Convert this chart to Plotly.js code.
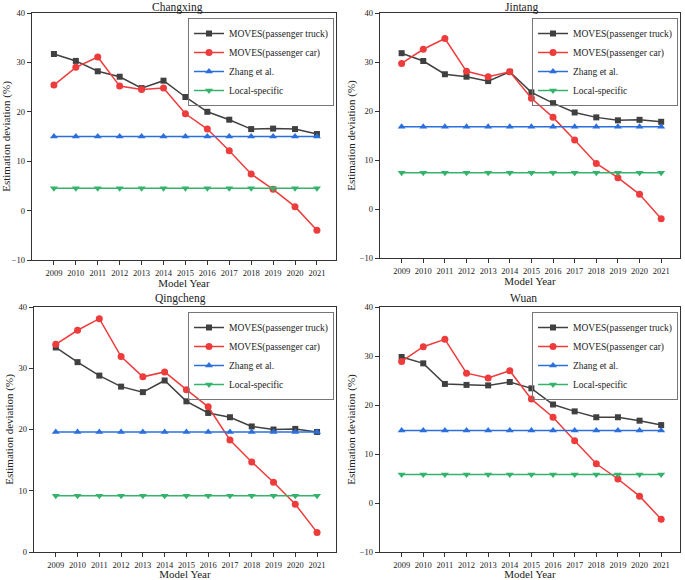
<!DOCTYPE html>
<html>
<head>
<meta charset="utf-8">
<script src="https://cdn.plot.ly/plotly-3.0.1.min.js"></script>
<style>html,body{margin:0;padding:0;background:#fff;}#chart{width:685px;height:580px;}</style>
</head>
<body>
<div id="chart"></div>
<script>
var years = [2009, 2010, 2011, 2012, 2013, 2014, 2015, 2016, 2017, 2018, 2019, 2020, 2021];
var seriesNames = ["MOVES(passenger truck)", "MOVES(passenger car)", "Zhang et al.", "Local-specific"];
var cities = ["Changxing", "Jintang", "Qingcheng", "Wuan"];

var changxingTruck = [31.7, 30.3, 28.2, 27.1, 24.8, 26.3, 23.0, 20.0, 18.4, 16.5, 16.6, 16.5, 15.5];
var changxingCar   = [25.4, 29.0, 31.1, 25.2, 24.5, 24.8, 19.6, 16.5, 12.1, 7.4, 4.3, 0.8, -4.0];
var changxingZhang = [15.0, 15.0, 15.0, 15.0, 15.0, 15.0, 15.0, 15.0, 15.0, 15.0, 15.0, 15.0, 15.0];
var changxingLocal = [4.5, 4.5, 4.5, 4.5, 4.5, 4.5, 4.5, 4.5, 4.5, 4.5, 4.5, 4.5, 4.5];

var jintangTruck = [31.8, 30.2, 27.5, 27.0, 26.1, 28.0, 23.8, 21.6, 19.7, 18.7, 18.1, 18.2, 17.8];
var jintangCar   = [29.7, 32.6, 34.8, 28.1, 27.0, 28.0, 22.6, 18.7, 14.1, 9.3, 6.4, 3.0, -2.0];
var jintangZhang = [16.8, 16.8, 16.8, 16.8, 16.8, 16.8, 16.8, 16.8, 16.8, 16.8, 16.8, 16.8, 16.8];
var jintangLocal = [7.4, 7.4, 7.4, 7.4, 7.4, 7.4, 7.4, 7.4, 7.4, 7.4, 7.4, 7.4, 7.4];

var qingchengTruck = [33.4, 31.0, 28.8, 27.0, 26.1, 28.0, 24.6, 22.7, 22.0, 20.5, 20.0, 20.1, 19.6];
var qingchengCar   = [33.9, 36.2, 38.1, 31.9, 28.6, 29.4, 26.5, 23.7, 18.3, 14.7, 11.4, 7.8, 3.2];
var qingchengZhang = [19.6, 19.6, 19.6, 19.6, 19.6, 19.6, 19.6, 19.6, 19.6, 19.6, 19.6, 19.6, 19.6];
var qingchengLocal = [9.2, 9.2, 9.2, 9.2, 9.2, 9.2, 9.2, 9.2, 9.2, 9.2, 9.2, 9.2, 9.2];

var wuanTruck = [29.8, 28.5, 24.3, 24.1, 24.0, 24.7, 23.4, 20.1, 18.7, 17.5, 17.5, 16.8, 15.9];
var wuanCar   = [28.9, 31.9, 33.4, 26.5, 25.5, 27.0, 21.2, 17.5, 12.7, 8.0, 4.9, 1.4, -3.3];
var wuanZhang = [14.8, 14.8, 14.8, 14.8, 14.8, 14.8, 14.8, 14.8, 14.8, 14.8, 14.8, 14.8, 14.8];
var wuanLocal = [5.8, 5.8, 5.8, 5.8, 5.8, 5.8, 5.8, 5.8, 5.8, 5.8, 5.8, 5.8, 5.8];

var yTickVals = [-10, 0, 10, 20, 30, 40];
var yTickValsQ = [0, 10, 20, 30, 40];

var cityData = [
  [changxingTruck, changxingCar, changxingZhang, changxingLocal],
  [jintangTruck, jintangCar, jintangZhang, jintangLocal],
  [qingchengTruck, qingchengCar, qingchengZhang, qingchengLocal],
  [wuanTruck, wuanCar, wuanZhang, wuanLocal]
];

var W = 685, H = 580;
var FONT = "Liberation Serif";
var colors = ["#404040", "#ee3b3b", "#2a6fdb", "#35b36d"];
var symbols = ["square", "circle", "triangle-up", "triangle-down"];
var msizes = [6, 7, 7, 7];

// panel pixel boxes [left, right, top, bottom]
var boxes = [[32, 336, 13, 260], [380, 680, 13, 258], [34, 336, 307, 552], [380, 680, 307, 552]];
var titlePos = [[177, 0], [521, 0], [180, 291], [523, 291]];
var yRanges = [[-10, 40], [-10, 40], [0, 40], [-10, 40]];
var yTicks = [yTickVals, yTickVals, yTickValsQ, yTickVals];

var data = [];
var layout = {
  width: W, height: H,
  margin: {l: 0, r: 0, t: 0, b: 0},
  paper_bgcolor: "#fff", plot_bgcolor: "#fff",
  font: {family: FONT, color: "#222"},
  annotations: [],
  showlegend: true
};

for (var p = 0; p < 4; p++) {
  var sfx = p === 0 ? "" : String(p + 1);
  var legName = p === 0 ? "legend" : "legend" + (p + 1);
  for (var s = 0; s < 4; s++) {
    data.push({
      type: "scatter", mode: "lines+markers",
      x: years, y: cityData[p][s],
      name: seriesNames[s],
      xaxis: "x" + sfx, yaxis: "y" + sfx,
      legend: legName,
      line: {color: colors[s], width: 1.5},
      marker: {symbol: symbols[s], size: msizes[s], color: colors[s]},
      showlegend: true
    });
  }
  var b = boxes[p];
  var axCommon = {
    showline: true, mirror: true, linecolor: "#333", linewidth: 1.3,
    ticks: "outside", ticklen: 4, tickwidth: 1, tickcolor: "#333",
    showgrid: false, zeroline: false,
    tickfont: {family: FONT, size: 8.5, color: "#222"}
  };
  layout["xaxis" + sfx] = Object.assign({}, axCommon, {
    domain: [b[0] / W, b[1] / W],
    anchor: "y" + sfx,
    range: [2008, 2021.87],
    tickmode: "array", tickvals: years, ticktext: years.map(String),
    title: {text: "Model Year", font: {family: FONT, size: 11, color: "#222"}, standoff: 1}
  });
  layout["yaxis" + sfx] = Object.assign({}, axCommon, {
    domain: [1 - b[3] / H, 1 - b[2] / H],
    anchor: "x" + sfx,
    range: yRanges[p],
    tickmode: "array", tickvals: yTicks[p],
    title: {text: "Estimation deviation (%)", font: {family: FONT, size: 11, color: "#222"}, standoff: 2}
  });
  layout[legName] = {
    x: (b[1] - 2) / W, y: 1 - (b[2] + 5) / H,
    xanchor: "right", yanchor: "top",
    xref: "paper", yref: "paper",
    bgcolor: "rgba(255,255,255,0)", bordercolor: "#777", borderwidth: 1,
    font: {family: FONT, size: 9.5, color: "#222"},
    tracegroupgap: 0, itemwidth: 30
  };
  layout.annotations.push({
    text: cities[p], xref: "paper", yref: "paper",
    x: titlePos[p][0] / W, y: 1 - titlePos[p][1] / H,
    xanchor: "center", yanchor: "top", showarrow: false, borderpad: 0,
    font: {family: FONT, size: 11.5, color: "#222"}
  });
}

Plotly.newPlot("chart", data, layout, {displayModeBar: false, staticPlot: true});
</script>
</body>
</html>
